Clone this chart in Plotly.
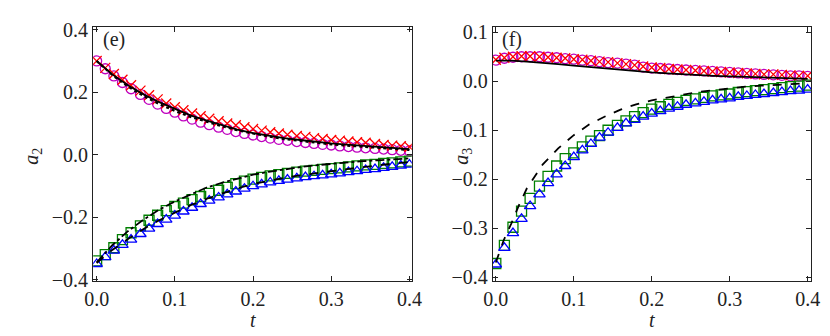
import plotly.graph_objects as go

# ---------------- data ----------------
T_MARK = [0.0, 0.011, 0.022, 0.033, 0.044, 0.056, 0.067, 0.078, 0.089, 0.1,
          0.111, 0.122, 0.133, 0.144, 0.156, 0.167, 0.178, 0.189, 0.2,
          0.211, 0.222, 0.233, 0.244, 0.256, 0.267, 0.278, 0.289, 0.3,
          0.311, 0.322, 0.333, 0.344, 0.356, 0.367, 0.378, 0.389, 0.4]
T_LINE = [0.0, 0.02, 0.04, 0.06, 0.08, 0.1, 0.12, 0.14, 0.16, 0.18, 0.2,
          0.22, 0.24, 0.26, 0.28, 0.3, 0.32, 0.34, 0.36, 0.38, 0.4]

# panel (e): a2
E_CIRC = [0.300, 0.275, 0.252, 0.231, 0.211, 0.193, 0.177, 0.162, 0.148, 0.136,
          0.124, 0.114, 0.104, 0.096, 0.088, 0.081, 0.074, 0.068, 0.063,
          0.058, 0.053, 0.049, 0.046, 0.042, 0.039, 0.036, 0.033, 0.031,
          0.028, 0.026, 0.024, 0.022, 0.020, 0.018, 0.016, 0.014, 0.012]
E_CROSS = [0.300, 0.278, 0.258, 0.240, 0.222, 0.205, 0.190, 0.177, 0.164, 0.152,
           0.142, 0.132, 0.123, 0.115, 0.107, 0.100, 0.094, 0.088, 0.082,
           0.077, 0.072, 0.068, 0.064, 0.060, 0.057, 0.053, 0.050, 0.047,
           0.045, 0.042, 0.040, 0.038, 0.034, 0.031, 0.029, 0.027, 0.025]
E_SOLID_UP = [0.300, 0.257, 0.222, 0.193, 0.168, 0.146, 0.126, 0.110, 0.094, 0.080, 0.069,
              0.060, 0.053, 0.047, 0.041, 0.036, 0.032, 0.028, 0.024, 0.021, 0.018]
E_DOT_UP = [0.300, 0.255, 0.218, 0.188, 0.162, 0.140, 0.121, 0.105, 0.091, 0.078, 0.067,
            0.058, 0.050, 0.044, 0.038, 0.033, 0.029, 0.025, 0.021, 0.018, 0.015]
E_SQ = [-0.340, -0.320, -0.298, -0.272, -0.250, -0.228, -0.210, -0.194, -0.179, -0.166,
        -0.155, -0.144, -0.134, -0.124, -0.114, -0.105, -0.093, -0.085, -0.078,
        -0.073, -0.068, -0.064, -0.060, -0.056, -0.053, -0.050, -0.047, -0.045,
        -0.042, -0.039, -0.036, -0.033, -0.031, -0.028, -0.026, -0.023, -0.021]
E_TRI = [-0.350, -0.328, -0.307, -0.289, -0.272, -0.254, -0.237, -0.222, -0.208, -0.195,
         -0.182, -0.170, -0.158, -0.147, -0.137, -0.127, -0.118, -0.109, -0.101,
         -0.095, -0.089, -0.084, -0.080, -0.076, -0.072, -0.069, -0.066, -0.063,
         -0.060, -0.056, -0.053, -0.049, -0.046, -0.042, -0.039, -0.035, -0.032]
E_DASHDOT_LO = [-0.345, -0.290, -0.245, -0.208, -0.176, -0.150, -0.128, -0.106, -0.090, -0.076, -0.064,
                -0.055, -0.047, -0.040, -0.034, -0.029, -0.025, -0.021, -0.018, -0.015, -0.012]
E_DASH_LO = [-0.347, -0.305, -0.270, -0.238, -0.210, -0.185, -0.162, -0.142, -0.124, -0.108, -0.094,
             -0.083, -0.074, -0.066, -0.059, -0.053, -0.046, -0.040, -0.034, -0.028, -0.023]

# panel (f): a3
F_CIRC = [0.043, 0.047, 0.049, 0.050, 0.050, 0.050, 0.049, 0.048, 0.046, 0.045,
          0.043, 0.042, 0.040, 0.038, 0.037, 0.035, 0.033, 0.029, 0.027,
          0.026, 0.025, 0.024, 0.023, 0.022, 0.021, 0.020, 0.019, 0.018,
          0.017, 0.016, 0.015, 0.014, 0.013, 0.012, 0.011, 0.011, 0.010]
F_CROSS = [0.044, 0.048, 0.050, 0.051, 0.051, 0.050, 0.049, 0.048, 0.047, 0.045,
           0.044, 0.042, 0.040, 0.039, 0.037, 0.035, 0.033, 0.030, 0.028,
           0.027, 0.025, 0.024, 0.023, 0.022, 0.021, 0.020, 0.019, 0.018,
           0.017, 0.016, 0.015, 0.014, 0.014, 0.013, 0.012, 0.011, 0.011]
F_SOLID_UP = [0.042, 0.042, 0.040, 0.038, 0.035, 0.032, 0.029, 0.026, 0.023, 0.020, 0.018,
              0.016, 0.014, 0.012, 0.011, 0.010, 0.009, 0.008, 0.007, 0.006, 0.005]
F_SQ = [-0.372, -0.335, -0.298, -0.265, -0.239, -0.214, -0.194, -0.173, -0.158, -0.146,
        -0.134, -0.122, -0.111, -0.100, -0.090, -0.081, -0.072, -0.064, -0.057,
        -0.052, -0.047, -0.043, -0.039, -0.036, -0.033, -0.030, -0.028, -0.026,
        -0.023, -0.021, -0.019, -0.017, -0.015, -0.013, -0.011, -0.010, -0.008]
F_TRI = [-0.374, -0.340, -0.310, -0.281, -0.255, -0.231, -0.208, -0.190, -0.173, -0.155,
         -0.141, -0.128, -0.115, -0.105, -0.095, -0.086, -0.079, -0.072, -0.066,
         -0.061, -0.056, -0.052, -0.048, -0.045, -0.042, -0.039, -0.037, -0.035,
         -0.032, -0.030, -0.028, -0.026, -0.024, -0.022, -0.020, -0.019, -0.017]
F_T_DASH = [0.0, 0.01, 0.02, 0.03, 0.04, 0.06, 0.08, 0.1, 0.12, 0.14, 0.16, 0.18, 0.2,
            0.22, 0.24, 0.26, 0.28, 0.3, 0.32, 0.34, 0.36, 0.38, 0.4]
F_DASH_LO = [-0.370, -0.325, -0.290, -0.252, -0.218, -0.170, -0.137, -0.110, -0.088, -0.072, -0.058,
             -0.047, -0.039, -0.033, -0.027, -0.022, -0.018, -0.014, -0.011, -0.009, -0.007, -0.005, -0.004]

TICKS_E_Y = [-0.4, -0.2, 0.0, 0.2, 0.4]
TICKS_F_Y = [-0.4, -0.3, -0.2, -0.1, 0.0, 0.1]
TICKS_X = [0.0, 0.1, 0.2, 0.3, 0.4]

MAG, RED, GRN, BLU = "#bf00bf", "#ff0000", "#008000", "#0000ff"

fig = go.Figure()


def markers(x, y, sym, col, size, xa, ya):
    fig.add_trace(go.Scatter(x=x, y=y, mode="markers", xaxis=xa, yaxis=ya,
                             marker=dict(symbol=sym, size=size, color=col,
                                         line=dict(color=col, width=1.3)),
                             showlegend=False))


def line(x, y, dash, xa, ya, w=1.8):
    fig.add_trace(go.Scatter(x=x, y=y, mode="lines", xaxis=xa, yaxis=ya,
                             line=dict(color="black", width=w, dash=dash),
                             showlegend=False))


# panel (e)
markers(T_MARK, E_CIRC, "circle-open", MAG, 10, "x", "y")
markers(T_MARK, E_CROSS, "x-thin-open", RED, 10, "x", "y")
markers(T_MARK, E_SQ, "square-open", GRN, 10, "x", "y")
markers(T_MARK, E_TRI, "triangle-up-open", BLU, 10, "x", "y")
line(T_LINE, E_DOT_UP, "dot", "x", "y", 2.2)
line(T_LINE, E_SOLID_UP, "solid", "x", "y")
line(T_LINE, E_DASHDOT_LO, "dashdot", "x", "y")
line(T_LINE, E_DASH_LO, "dash", "x", "y")

# panel (f)
markers(T_MARK, F_CIRC, "circle-open", MAG, 10, "x2", "y2")
markers(T_MARK, F_CROSS, "x-thin-open", RED, 10, "x2", "y2")
markers(T_MARK, F_SQ, "square-open", GRN, 10, "x2", "y2")
markers(T_MARK, F_TRI, "triangle-up-open", BLU, 10, "x2", "y2")
line(T_LINE, F_SOLID_UP, "solid", "x2", "y2")
line(F_T_DASH, F_DASH_LO, "dash", "x2", "y2")

W, H = 830, 336
ydom = [(H - 280) / H, (H - 12) / H]


def ax(**kw):
    d = dict(showgrid=False, zeroline=False, showline=True, linecolor="#222222",
             linewidth=1.2, mirror="ticks", ticks="inside", ticklen=5,
             tickcolor="#222222", tickwidth=1, tickformat=".1f",
             tickfont=dict(family="Liberation Serif", size=20, color="#222222"))
    d.update(kw)
    return d


fig.update_layout(
    width=W, height=H, margin=dict(l=0, r=0, t=0, b=0), showlegend=False,
    paper_bgcolor="white", plot_bgcolor="white",
    xaxis=ax(domain=[78 / W, 404 / W], range=[-0.0044, 0.403], tickvals=TICKS_X, anchor="y"),
    yaxis=ax(domain=ydom, range=[-0.4045, 0.4076], tickvals=TICKS_E_Y, anchor="x"),
    xaxis2=ax(domain=[487 / W, 813 / W], range=[-0.0038, 0.4048], tickvals=TICKS_X, anchor="y2"),
    yaxis2=ax(domain=ydom, range=[-0.4077, 0.110], tickvals=TICKS_F_Y, anchor="x2"),
)

annots = [
    dict(text="(e)", x=86 / W, y=(H - 25) / H, xanchor="left", yanchor="middle"),
    dict(text="(f)", x=494 / W, y=(H - 25) / H, xanchor="left", yanchor="middle"),
    dict(text="<i>a</i><sub>2</sub>", x=15 / W, y=(H - 148) / H, textangle=-90,
         xanchor="center", yanchor="middle"),
    dict(text="<i>a</i><sub>3</sub>", x=455 / W, y=(H - 148) / H, textangle=-90,
         xanchor="center", yanchor="middle"),
    dict(text="<i>t</i>", x=242 / W, y=(H - 321) / H, xanchor="center", yanchor="middle"),
    dict(text="<i>t</i>", x=650 / W, y=(H - 321) / H, xanchor="center", yanchor="middle"),
]
for a in annots:
    fig.add_annotation(xref="paper", yref="paper", showarrow=False,
                       font=dict(family="Liberation Serif", size=20, color="#222222"), **a)

fig.write_html("out.html")
